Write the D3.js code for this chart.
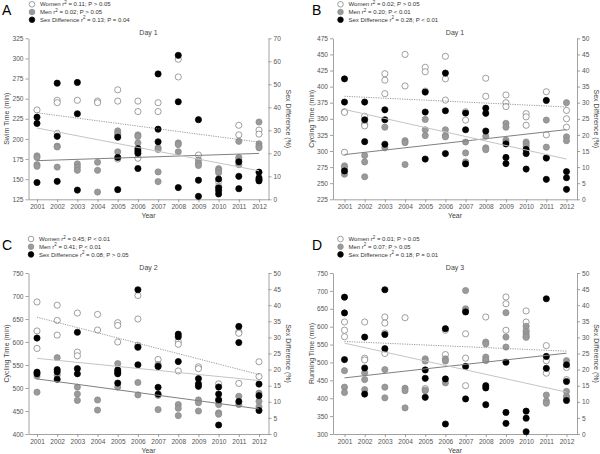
<!DOCTYPE html>
<html>
<head>
<meta charset="utf-8">
<script src="https://cdn.jsdelivr.net/npm/d3@7"></script>
<style>
  body { margin: 0; background: #fff; }
  text { font-family: "Liberation Sans", Arial, sans-serif; }
</style>
</head>
<body>
<div id="chart"></div>
<script>
const years = [2001, 2002, 2003, 2004, 2005, 2006, 2007, 2008, 2009, 2010, 2011, 2012];

// A - swim, day 1
const aWomen = [[236],[248,245,207],[248],[247,245],[261,247,175],[247,234,176],[245,234],[299,277],[180],[147,141],[217,205],[211,206]];
const aMen = [[179,177,168,166],[191,190,165],[169,165,161],[171,161,134],[210,207,205,184],[205,203,195],[189,187,159,147],[195,193,184],[174,170,167],[163,161,158],[197,177,174,168],[221,194,191,189]];
const aSex = [[35.7,33,7.3],[50.5,27.4,7.8],[50.8,37.2,4],[],[27,18.2,4.2],[22,21,20,13.4],[54.5,30.5,25],[62.6,42.4,5.1],[34.6,8.3,1.3],[8.8,5,3.8,2.3],[16.3,10,4.6],[11.8,9.3,8.6,8]];
const aFit = [[232.5, 196], [173, 182], [31, 12.4]]; // women, men, sex difference (2001, 2012)
const aLeftTicks = [125, 150, 175, 200, 225, 250, 275, 300, 325];
const aRightTicks = [0, 10, 20, 30, 40, 50, 60, 70];
const aLegend = ["0.11; P > 0.05", "0.02; P > 0.05", "0.13; P = 0.04"];

// B - cycling, day 1
const bWomen = [[361,360,298],[354,342,339],[420,410,389],[450,401],[430,423,393],[447,412,379],[361,348],[413,385],[387,375,369],[358,353,340],[392,325],[363,350,337]];
const bMen = [[277,274,264],[293,283,260],[337,305],[316,313,279],[349,333,324],[333,324,322],[314,297,283],[323,305,302],[343,337,317,314],[314,311,307],[348,306,290],[375,322,316]];
const bSex = [[37.4,30.2,8.8],[30.2,24.7,17.9],[27.8,24.7,17.1],[],[33.3,27.1,12.5],[39.2,27.5,14.2],[26.8,21.6,11],[28.3,26.7,21.2],[17.2,13,11.1],[15.5,14.2,9.4],[30.7,12.8,6.2],[8.6,6.7,3.1]];
const bFit = [[385, 368.4], [294.4, 333.2], [27.9, 12.5]];
const bLeftTicks = [225, 250, 275, 300, 325, 350, 375, 400, 425, 450, 475];
const bRightTicks = [0, 5, 10, 15, 20, 25, 30, 35, 40, 45, 50];
const bLegend = ["0.02; P > 0.05", "0.20; P < 0.01", "0.28; P < 0.01"];

// C - cycling, day 2
const cWomen = [[687,624,586],[680,647,615],[663,578,570],[660,626],[642,636,600],[701,650,593,588],[562],[601,595,537],[546,542],[509,476],[622,619,510],[557,525]];
const cMen = [[526,491],[566,528],[502,487,473],[474,452],[553,502],[512,485],[551,547,484,453],[464,456,440],[474,468,450],[464,446,443],[482,464],[489,471,459]];
const cSex = [[29.8,19.2,18.7],[20,19.3,17],[31.6,20.3,18.7],[],[19.9,19.2,18.7,15.8],[44.8,27,21.5],[21,14.5,12.4],[31,30.2,22.5],[17.2,15.6,14.8],[14.6,12.4,10.5,2.8],[33.4,28.4,10.1],[15.5,11.9,7.3]];
const cFit = [[654, 529.3], [519.8, 454.5], [23.5, 16.6]];
const cLeftTicks = [400, 450, 500, 550, 600, 650, 700, 750];
const cRightTicks = [0, 5, 10, 15, 20, 25, 30, 35, 40, 45, 50];
const cLegend = ["0.45; P < 0.01", "0.41; P < 0.01", "0.08; P > 0.05"];

// D - running, day 3
const dWomen = [[613,590,572],[613,512,507],[627,610,582,525],[625],[427,423],[590,522],[580,512,435],[627,505],[683,664,590],[644,613,590,570],[547,505,470],[486,452]];
const dMen = [[477,431,416],[471,452,424],[480,431,401],[428,421,373],[510,504,421],[510,504,443],[701,650,645],[557,552,515,507],[639,571,543],[601,585,578,572],[409,392,386],[505,419,405,401]];
const dSex = [[42.5,37.6,23.1],[30.1,20.5,12.4],[44.8,30.9,26.5],[],[19.9,17.3,11.4],[32.7,17.1,3.1],[37.9,21,10.9],[15,14.3,9.1],[22.3,6.7,3.3],[7.1,4.9,0.7],[42,24.1,20.4],[21.5,16.3,10.4]];
const dFit = [[558.6, 531.6], [456.9, 526], [28.2, 13.0]];
const dLeftTicks = [300, 350, 400, 450, 500, 550, 600, 650, 700, 750];
const dRightTicks = [0, 5, 10, 15, 20, 25, 30, 35, 40, 45, 50];
const dLegend = ["0.01; P > 0.05", "0.07; P > 0.05", "0.18; P = 0.01"];

const legendNames = ["Women", "Men", "Sex Difference"];

const panels = [
  {letter: "A", lx: 2, top: 38.3, bottom: 199.3, left: 28.5, right: 268.5, x0: 37, x1: 259,
   yDomain: [125, 325], rDomain: [0, 70], leftTicks: aLeftTicks, rightTicks: aRightTicks,
   title: "Day 1", yLabel: "Swim Time (min)", legend: aLegend, legX: 32, legY: 4.3,
   women: aWomen, men: aMen, sex: aSex, fit: aFit},
  {letter: "B", lx: 312, top: 38.3, bottom: 199.3, left: 333, right: 577, x0: 344.5, x1: 566.5,
   yDomain: [225, 475], rDomain: [0, 50], leftTicks: bLeftTicks, rightTicks: bRightTicks,
   title: "Day 1", yLabel: "Cycling Time (min)", legend: bLegend, legX: 340.5, legY: 4.3,
   women: bWomen, men: bMen, sex: bSex, fit: bFit},
  {letter: "C", lx: 2, top: 273, bottom: 434, left: 28.5, right: 268.5, x0: 37, x1: 259,
   yDomain: [400, 750], rDomain: [0, 50], leftTicks: cLeftTicks, rightTicks: cRightTicks,
   title: "Day 2", yLabel: "Cycling Time (min)", legend: cLegend, legX: 31, legY: 239,
   women: cWomen, men: cMen, sex: cSex, fit: cFit},
  {letter: "D", lx: 312, top: 273, bottom: 434, left: 333, right: 577, x0: 344.5, x1: 566.5,
   yDomain: [300, 750], rDomain: [0, 50], leftTicks: dLeftTicks, rightTicks: dRightTicks,
   title: "Day 3", yLabel: "Running Time (min)", legend: dLegend, legX: 340.5, legY: 239,
   women: dWomen, men: dMen, sex: dSex, fit: dFit}
];

const svg = d3.select("#chart")
  .append("svg")
  .attr("width", 600)
  .attr("height", 454)
  .style("background", "#fff");

const style = {
  women: {fill: "#fff", stroke: "#777"},
  men: {fill: "#9a9a9a", stroke: "#888"},
  sex: {fill: "#000", stroke: "#000"}
};

function flatten(groups) {
  const out = [];
  groups.forEach((vals, i) => vals.forEach(v => out.push({year: years[i], value: v})));
  return out;
}

function styleAxis(g) {
  g.attr("font-size", 6.6).attr("font-family", null);
  g.selectAll("path, line").attr("stroke", "#8a8a8a").attr("stroke-width", 0.8);
  g.selectAll("text").attr("fill", "#555");
}

panels.forEach(p => {
  const g = svg.append("g");

  const x = d3.scaleLinear().domain([2001, 2012]).range([p.x0, p.x1]);
  const xa = x.copy().domain([x.invert(p.left), x.invert(p.right)]).range([p.left, p.right]);
  const y = d3.scaleLinear().domain(p.yDomain).range([p.bottom, p.top]);
  const r = d3.scaleLinear().domain(p.rDomain).range([p.bottom, p.top]);

  // axes
  g.append("g")
    .attr("transform", "translate(0," + p.bottom + ")")
    .call(d3.axisBottom(xa).tickValues(years).tickFormat(d3.format("d")).tickSize(3).tickSizeOuter(0).tickPadding(2.5))
    .call(styleAxis);
  g.append("g")
    .attr("transform", "translate(" + p.left + ",0)")
    .call(d3.axisLeft(y).tickValues(p.leftTicks).tickSize(3).tickSizeOuter(0).tickPadding(2))
    .call(styleAxis);
  g.append("g")
    .attr("transform", "translate(" + p.right + ",0)")
    .call(d3.axisRight(r).tickValues(p.rightTicks).tickSize(3).tickSizeOuter(0).tickPadding(2))
    .call(styleAxis);

  const mid = (p.left + p.right) / 2;
  const midY = (p.top + p.bottom) / 2;

  // labels
  g.append("text").attr("x", mid).attr("y", p.top - 3.5)
    .attr("text-anchor", "middle").attr("font-size", 7).attr("fill", "#444").text(p.title);
  g.append("text").attr("x", mid).attr("y", p.bottom + 19)
    .attr("text-anchor", "middle").attr("font-size", 7).attr("fill", "#444").text("Year");
  g.append("text")
    .attr("transform", "translate(" + (p.left - 21.5) + "," + midY + ") rotate(-90)")
    .attr("text-anchor", "middle").attr("dy", "0.35em")
    .attr("font-size", 7).attr("fill", "#444").text(p.yLabel);
  g.append("text")
    .attr("transform", "translate(" + (p.right + 19.5) + "," + midY + ") rotate(90)")
    .attr("text-anchor", "middle").attr("dy", "0.35em")
    .attr("font-size", 7).attr("fill", "#444").text("Sex Difference (%)");

  // panel letter
  g.append("text").attr("x", p.lx).attr("y", p.legY + 11)
    .attr("font-size", 14).attr("fill", "#000").text(p.letter);

  // points
  const series = [
    {key: "women", data: flatten(p.women), sc: y},
    {key: "men", data: flatten(p.men), sc: y},
    {key: "sex", data: flatten(p.sex), sc: r}
  ];
  series.forEach(s => {
    g.append("g").selectAll("circle")
      .data(s.data)
      .enter().append("circle")
      .attr("cx", d => x(d.year))
      .attr("cy", d => s.sc(d.value))
      .attr("r", 3.1)
      .attr("fill", style[s.key].fill)
      .attr("stroke", style[s.key].stroke)
      .attr("stroke-width", 0.7);
  });

  // regression lines
  const fits = [
    {vals: p.fit[0], sc: y, color: "#808080", dash: "1.2,1.2", w: 0.8},
    {vals: p.fit[1], sc: y, color: "#808080", dash: null, w: 1},
    {vals: p.fit[2], sc: r, color: "#c4c4c4", dash: null, w: 1}
  ];
  fits.forEach(f => {
    g.append("line")
      .attr("x1", x(2001)).attr("y1", f.sc(f.vals[0]))
      .attr("x2", x(2012)).attr("y2", f.sc(f.vals[1]))
      .attr("stroke", f.color)
      .attr("stroke-width", f.w)
      .attr("stroke-dasharray", f.dash);
  });

  // legend
  const keys = ["women", "men", "sex"];
  keys.forEach((k, i) => {
    const ly = p.legY + i * 7.7;
    g.append("circle").attr("cx", p.legX).attr("cy", ly).attr("r", 2.8)
      .attr("fill", style[k].fill).attr("stroke", style[k].stroke).attr("stroke-width", 0.7);
    const t = g.append("text").attr("x", p.legX + 8).attr("y", ly).attr("dy", "0.35em")
      .attr("font-size", 6).attr("fill", "#333");
    t.append("tspan").text(legendNames[i] + " r");
    t.append("tspan").attr("dy", -2.5).attr("font-size", 4.5).text("2");
    t.append("tspan").attr("dy", 2.5).text(" = " + p.legend[i]);
  });
});
</script>
</body>
</html>
